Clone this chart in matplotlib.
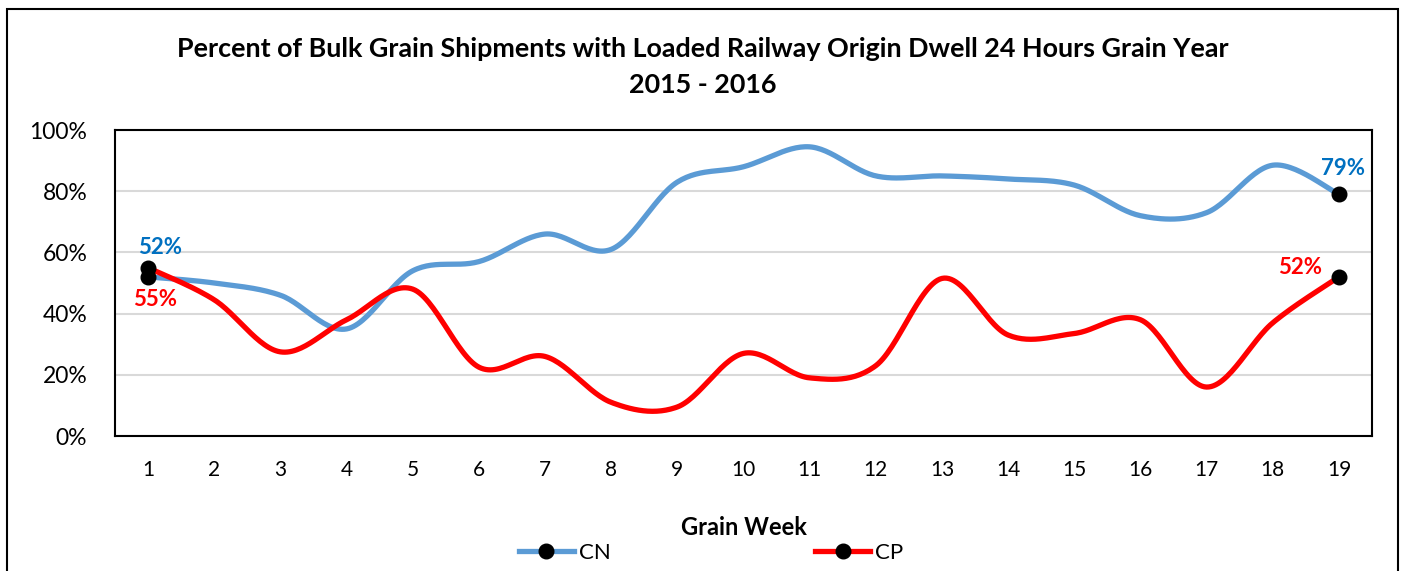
import numpy as np
import matplotlib.pyplot as plt
from matplotlib.patches import Rectangle

weeks = list(range(1, 20))
cn = [52, 50, 46, 35, 54, 57, 66, 61, 83, 88, 94.5, 85, 85, 84, 82, 72, 73, 88.5, 79]
cp = [55, 44.5, 27.5, 38, 48, 22.5, 26, 11, 9.5, 27, 19, 23, 51.5, 33, 33.5, 38, 16, 37, 52]

CN_COL = "#5B9BD5"
CP_COL = "#FF0000"
FONT = "Lato"


def smooth(x, y, n=30):
    # catmull-rom style curve, close to excel's "smoothed line"
    x = np.asarray(x, float)
    y = np.asarray(y, float)
    px = np.concatenate([[x[0]], x, [x[-1]]])
    py = np.concatenate([[y[0]], y, [y[-1]]])
    xs, ys = [], []
    t = np.linspace(0, 1, n)
    for i in range(1, len(px) - 2):
        p0, p1, p2, p3 = py[i - 1], py[i], py[i + 1], py[i + 2]
        q0, q1, q2, q3 = px[i - 1], px[i], px[i + 1], px[i + 2]
        c1y, c2y = p1 + (p2 - p0) / 6, p2 - (p3 - p1) / 6
        c1x, c2x = q1 + (q2 - q0) / 6, q2 - (q3 - q1) / 6
        b = lambda a, b_, c, d: ((1 - t) ** 3 * a + 3 * (1 - t) ** 2 * t * b_
                                 + 3 * (1 - t) * t ** 2 * c + t ** 3 * d)
        xs.append(b(q1, c1x, c2x, q2))
        ys.append(b(p1, c1y, c2y, p2))
    return np.concatenate(xs), np.concatenate(ys)


fig = plt.figure(figsize=(14.05, 5.71), dpi=100)
ax = fig.add_axes([0.0819, 0.2364, 0.8946, 0.5359])

fig.patches.append(Rectangle((0.005, -0.05), 0.99, 1.034, transform=fig.transFigure,
                             fill=False, edgecolor="black", linewidth=1.5))

handles = []
for vals, col, name in [(cn, CN_COL, "CN"), (cp, CP_COL, "CP")]:
    sx, sy = smooth(weeks, vals)
    ax.plot(sx, sy, color=col, linewidth=3.8, solid_capstyle="round", zorder=3)
    ax.plot([weeks[0], weeks[-1]], [vals[0], vals[-1]], "o", color="black",
            markersize=10.5, zorder=4)
    h, = ax.plot([], [], color=col, linewidth=3.8, marker="o", markerfacecolor="black",
                 markeredgecolor="black", markersize=10.5, label=name)
    handles.append(h)

lab = dict(fontsize=16, fontweight="bold", family=FONT, ha="center", va="center",
           textcoords="offset pixels")
ax.annotate("52%", (1, cn[0]), xytext=(12, 29), color="#0070C0", **lab)
ax.annotate("55%", (1, cp[0]), xytext=(7, -32), color=CP_COL, **lab)
ax.annotate("79%", (19, cn[-1]), xytext=(4, 26), color="#0070C0", **lab)
ax.annotate("52%", (19, cp[-1]), xytext=(-39, 9), color=CP_COL, **lab)

ax.set_xlim(0.5, 19.5)
ax.set_ylim(0, 100)
ax.set_xticks(weeks)
ax.set_yticks(range(0, 101, 20))
ax.set_yticklabels([f"{v}%" for v in range(0, 101, 20)])
ax.tick_params(axis="x", length=0, labelsize=15, pad=17)
ax.tick_params(axis="y", length=0, labelsize=16.5, pad=20)
for t in ax.get_xticklabels() + ax.get_yticklabels():
    t.set_family(FONT)
ax.yaxis.grid(True, color="#D9D9D9", linewidth=1.5)
ax.set_axisbelow(True)
for s in ax.spines.values():
    s.set_linewidth(1.5)
    s.set_color("black")

ax.set_xlabel("Grain Week", fontsize=17, fontweight="bold", family=FONT, labelpad=26)
fig.text(0.5, 0.915, "Percent of Bulk Grain Shipments with Loaded Railway Origin Dwell 24 Hours Grain Year",
         ha="center", va="center", fontsize=19.4, fontweight="bold", family=FONT)
fig.text(0.5, 0.851, "2015 - 2016", ha="center", va="center", fontsize=19.4,
         fontweight="bold", family=FONT)

fig.legend(handles=handles, loc="center", bbox_to_anchor=(0.506, 0.032), ncol=2,
           frameon=False, columnspacing=9.2, handlelength=2.48, handletextpad=0.22,
           borderpad=0, prop={"family": FONT, "size": 16})

fig.savefig("out.png", dpi=100)
